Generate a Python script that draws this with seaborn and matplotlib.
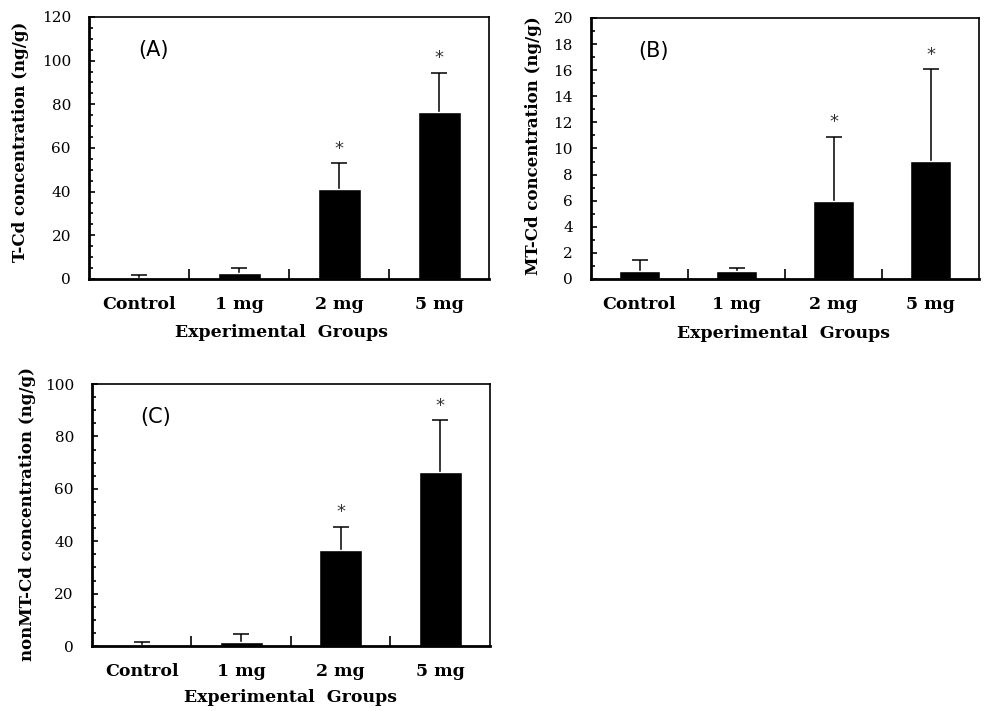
import numpy as np
import pandas as pd
import matplotlib
matplotlib.use("Agg")
import matplotlib.pyplot as plt
from matplotlib.ticker import MultipleLocator, FixedLocator
import seaborn as sns

# Values
groups = ['Control', '1 mg', '2 mg', '5 mg']

tcd_mean = [0.3, 2.6, 41.2, 76.4]
tcd_sd = [1.4, 2.4, 11.8, 18.0]

mtcd_mean = [0.6, 0.6, 6.0, 9.05]
mtcd_sd = [0.85, 0.22, 4.9, 7.05]

nonmt_mean = [0.2, 1.6, 36.5, 66.3]
nonmt_sd = [1.2, 2.8, 9.0, 19.8]

# groups that carry a significance star
star = [False, False, True, True]

sns.set_theme(style="white")
plt.rcParams['font.family'] = ['DejaVu Serif']
plt.rcParams['text.color'] = 'black'
plt.rcParams['axes.labelcolor'] = 'black'
plt.rcParams['xtick.color'] = 'black'
plt.rcParams['ytick.color'] = 'black'

fig = plt.figure(figsize=(9.88, 7.11), dpi=100)

panels = [
    # letter, means, sds, ylabel, ymax, major, minor, axes rect, ylabel xy, xlabel xy
    ('(A)', tcd_mean, tcd_sd, 'T-Cd concentration (ng/g)', 120, 20, 5,
     [0.0901, 0.6076, 0.4049, 0.3685], (-0.1725, 0.523), (0.481, -0.206)),
    ('(B)', mtcd_mean, mtcd_sd, 'MT-Cd concentration (ng/g)', 20, 2, 1,
     [0.5982, 0.6076, 0.3927, 0.3671], (-0.149, 0.51), (0.497, -0.207)),
    ('(C)', nonmt_mean, nonmt_sd, 'nonMT-Cd concentration (ng/g)', 100, 20, 5,
     [0.0931, 0.0914, 0.4028, 0.3685], (-0.161, 0.504), (0.50, -0.198)),
]

for letter, means, sds, ylab, ymax, major, minor, rect, ylxy, xlxy in panels:
    ax = fig.add_axes(rect)
    df = pd.DataFrame({'group': groups, 'value': means})
    sns.barplot(data=df, x='group', y='value', color='black', width=0.43,
                saturation=1, ax=ax, errorbar=None, zorder=2)
    # symmetric error bars drawn under the bars: only the upper half shows
    ax.errorbar(np.arange(len(groups)), means, yerr=sds, fmt='none',
                ecolor='black', elinewidth=1.1, capsize=5.5, capthick=1.1,
                zorder=1)

    # stars above the error bars
    for i, (m, s, st) in enumerate(zip(means, sds, star)):
        if st:
            ax.text(i, m + s + ymax * 0.055, '*', ha='center', va='center',
                    fontsize=13, color='#333333', family='DejaVu Sans')

    ax.set_xlim(-0.5, 3.5)
    ax.set_ylim(0, ymax)
    ax.yaxis.set_major_locator(MultipleLocator(major))
    ax.yaxis.set_minor_locator(MultipleLocator(minor))
    ax.xaxis.set_minor_locator(FixedLocator([0.5, 1.5, 2.5]))

    ax.tick_params(axis='y', which='both', direction='in', left=True,
                   width=1.2, pad=13, labelsize=11)
    ax.tick_params(axis='y', which='major', length=4)
    ax.tick_params(axis='y', which='minor', length=3)
    ax.tick_params(axis='x', which='major', length=0, pad=12, labelsize=12.5)
    ax.tick_params(axis='x', which='minor', direction='in', bottom=True,
                   length=7, width=1.2)
    for lab in ax.get_xticklabels():
        lab.set_fontweight('bold')

    for side in ['left', 'bottom']:
        ax.spines[side].set_linewidth(2.0)
    for side in ['top', 'right']:
        ax.spines[side].set_linewidth(1.2)
    for sp in ax.spines.values():
        sp.set_color('black')

    ax.set_ylabel(ylab, fontsize=12, fontweight='bold', va='center')
    ax.yaxis.set_label_coords(*ylxy)
    ax.set_xlabel('Experimental  Groups', fontsize=12.5, fontweight='bold',
                  va='center')
    ax.xaxis.set_label_coords(*xlxy)

    ax.text(0.16, 0.875, letter, transform=ax.transAxes, ha='center',
            va='center', fontsize=15, family='DejaVu Sans')

fig.savefig('out.png', dpi=100)
